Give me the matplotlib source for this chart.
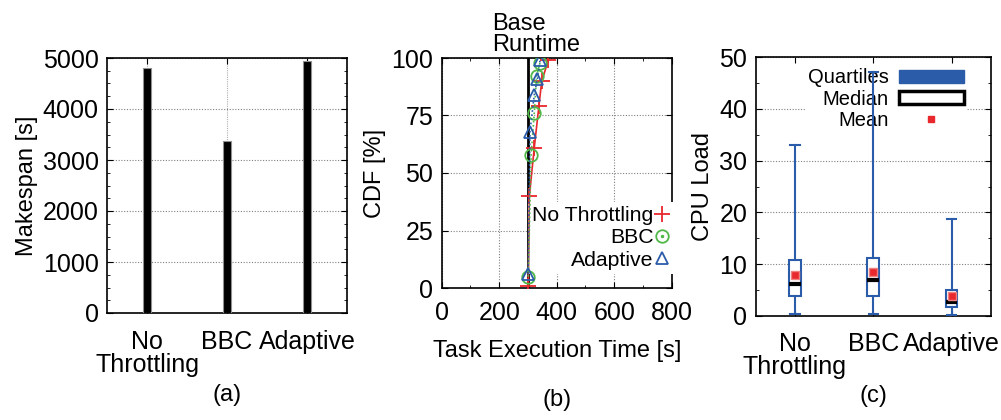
import matplotlib
matplotlib.use("Agg")
import matplotlib.pyplot as plt
from matplotlib.patches import Patch
from matplotlib.lines import Line2D
from matplotlib.ticker import MultipleLocator

plt.rcParams['font.family'] = ['Liberation Sans', 'DejaVu Sans']
plt.rcParams['font.size'] = 17
plt.rcParams['xtick.labelsize'] = 18
plt.rcParams['ytick.labelsize'] = 18

# (a) makespan per strategy
strategies = ["No\nThrottling", "BBC", "Adaptive"]
makespan = [4810, 3380, 4950]

# (b) CDF of task execution time
base_runtime = 300
nothr_time = [301, 305, 322, 338, 348, 371]
nothr_cdf = [1, 40, 61, 79, 90, 99]
bbc_time = [301, 311, 322, 330, 342]
bbc_cdf = [5, 58, 76, 92, 98]
adapt_time = [301, 307, 322, 333, 342]
adapt_cdf = [6, 68, 84, 91, 99]

# (c) CPU load box stats
cpu_whislo = [0.3, 0.3, 0.2]
cpu_q1 = [3.9, 3.9, 1.6]
cpu_med = [6.1, 6.9, 2.65]
cpu_mean = [7.9, 8.5, 3.9]
cpu_q3 = [10.7, 11.2, 5.0]
cpu_whishi = [33.0, 47.2, 18.8]

RED = "#e8282c"
GREEN = "#4fb848"
BLUE = "#2b5caa"
GRID = dict(color="#808080", linestyle=(0, (1, 1.5)), linewidth=0.8)

fig = plt.figure(figsize=(10.01, 4.2), dpi=100)
pos = [1, 2, 3]


def gp_ticks(ax):
    ax.tick_params(direction="in", which="both", top=True, right=True, length=4)
    ax.tick_params(which="minor", length=2)
    for s in ax.spines.values():
        s.set_linewidth(1.2)


# ---- (a)
ax1 = fig.add_axes([107 / 1001, 1 - 313 / 420, 240 / 1001, 255 / 420])
ax1.bar(pos, makespan, width=0.11, color="black", edgecolor="#909090", linewidth=0.8, zorder=3)
ax1.set_xlim(0.5, 3.5)
ax1.set_ylim(0, 5000)
ax1.set_xticks(pos)
ax1.set_xticklabels(strategies, linespacing=0.95)
ax1.yaxis.set_major_locator(MultipleLocator(1000))
ax1.yaxis.set_minor_locator(MultipleLocator(250))
ax1.set_ylabel("Makespan [s]", labelpad=3)
ax1.grid(True, axis="y", **GRID)
ax1.grid(True, axis="x", color="#b0b0b0", linestyle=(0, (1, 1)), linewidth=0.8)
gp_ticks(ax1)
ax1.tick_params(axis="x", pad=12)
ax1.tick_params(axis="y", pad=6)
ax1.text(0.5, -0.28, "(a)", transform=ax1.transAxes, ha="center", va="top")

# ---- (b)
ax2 = fig.add_axes([441.7 / 1001, 1 - 288 / 420, 230 / 1001, 230 / 420])
ax2.axvline(base_runtime, color="black", linewidth=2, zorder=2)
ax2.text(base_runtime - 125, 101, "Base\nRuntime", ha="left", va="bottom", linespacing=0.95)
ax2.plot(nothr_time, nothr_cdf, color=RED, linestyle="-", linewidth=1.2, marker="+",
         markersize=11, markeredgewidth=1.3, label="No Throttling", zorder=4)
ax2.plot(bbc_time, bbc_cdf, color=GREEN, linestyle=(0, (1, 1.5)), linewidth=1.2, marker="o",
         markersize=9, markerfacecolor="none", markeredgewidth=1.3, label="BBC", zorder=4)
ax2.plot(adapt_time, adapt_cdf, color=BLUE, linestyle=(0, (1, 1.5)), linewidth=1.2, marker="^",
         markersize=9, markerfacecolor="none", markeredgewidth=1.3, label="Adaptive", zorder=4)
ax2.set_xlim(0, 800)
ax2.set_ylim(0, 100)
ax2.xaxis.set_major_locator(MultipleLocator(200))
ax2.xaxis.set_minor_locator(MultipleLocator(100))
ax2.yaxis.set_major_locator(MultipleLocator(25))
ax2.grid(True, **GRID)
gp_ticks(ax2)
ax2.tick_params(axis="x", pad=9)
ax2.tick_params(axis="y", pad=6)
ax2.set_xlabel("Task Execution Time [s]", labelpad=11)
ax2.set_ylabel("CDF [%]", labelpad=4)
circ = Line2D([], [], color=GREEN, marker="o", linestyle="none", markersize=9,
              markerfacecolor="none", markeredgewidth=1.3)
dot = Line2D([], [], color=GREEN, marker=".", linestyle="none", markersize=3)
h = [Line2D([], [], color=RED, marker="+", linestyle="none", markersize=11, markeredgewidth=1.3),
     (circ, dot),
     Line2D([], [], color=BLUE, marker="^", linestyle="none", markersize=9,
            markerfacecolor="none", markeredgewidth=1.3)]
leg = ax2.legend(h, ["No Throttling", "BBC", "Adaptive"], loc="lower right",
                 bbox_to_anchor=(1.05, 0.015), markerfirst=False, handlelength=0.6,
                 handletextpad=0.1, labelspacing=0.15, borderpad=0.2, frameon=True,
                 fancybox=False, framealpha=1, edgecolor="none", facecolor="white",
                 fontsize=15.3)
leg.set_zorder(3)
ax2.text(0.5, -0.44, "(b)", transform=ax2.transAxes, ha="center", va="top")

# ---- (c)
ax3 = fig.add_axes([755.7 / 1001, 1 - 315.7 / 420, 235 / 1001, 258.4 / 420])
stats = []
for i in range(3):
    stats.append(dict(whislo=cpu_whislo[i], q1=cpu_q1[i], med=cpu_med[i], mean=cpu_mean[i],
                      q3=cpu_q3[i], whishi=cpu_whishi[i], fliers=[]))
ax3.bxp(stats, positions=pos, widths=0.15, capwidths=0.12, showmeans=True,
        patch_artist=True,
        boxprops=dict(facecolor="white", edgecolor=BLUE, linewidth=1.5),
        whiskerprops=dict(color=BLUE, linewidth=1.5, zorder=6),
        capprops=dict(color=BLUE, linewidth=1.5, zorder=6),
        medianprops=dict(color="black", linewidth=3),
        meanprops=dict(marker="s", markerfacecolor=RED, markeredgecolor="#f08080",
                       markersize=6))
ax3.set_xlim(0.5, 3.5)
ax3.set_ylim(0, 50)
ax3.set_xticks(pos)
ax3.set_xticklabels(strategies, linespacing=0.95)
ax3.yaxis.set_major_locator(MultipleLocator(10))
ax3.yaxis.set_minor_locator(MultipleLocator(5))
ax3.grid(True, axis="y", **GRID)
gp_ticks(ax3)
ax3.tick_params(axis="x", pad=12)
ax3.tick_params(axis="y", pad=6)
ax3.set_ylabel("CPU Load", labelpad=4)
h3 = [Patch(facecolor=BLUE, edgecolor=BLUE),
      Patch(facecolor="white", edgecolor="black", linewidth=2.5),
      Line2D([], [], marker="s", color=RED, linestyle="none", markersize=5)]
leg3 = ax3.legend(h3, ["Quartiles", "Median", "Mean"], loc="upper right",
                  bbox_to_anchor=(0.94, 1.008), markerfirst=False, handlelength=3.2,
                  handleheight=0.65, handletextpad=0.5, labelspacing=0.12, borderpad=0.15,
                  frameon=True, fancybox=False, framealpha=1, edgecolor="none",
                  facecolor="white", fontsize=14.5)
leg3.set_zorder(5)
ax3.text(0.5, -0.27, "(c)", transform=ax3.transAxes, ha="center", va="top")

fig.savefig("out.png", dpi=100)
